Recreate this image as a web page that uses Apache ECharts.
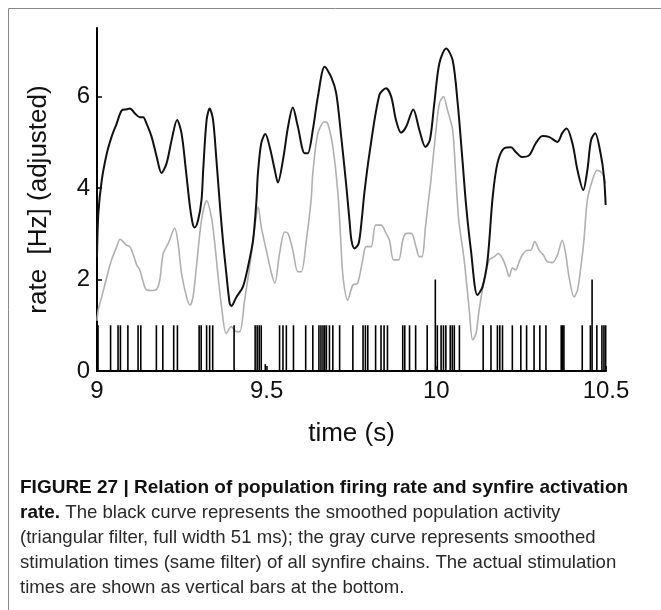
<!DOCTYPE html>
<html>
<head>
<meta charset="utf-8">
<script src="https://cdn.jsdelivr.net/npm/echarts@6/dist/echarts.min.js"></script>
<style>
html,body{margin:0;padding:0;background:#fff;}
#c{width:661px;height:610px;}
</style>
</head>
<body>
<div id="c"></div>
<script>
// ---- data ----
const blackT = [9.000,9.004,9.014,9.029,9.043,9.058,9.073,9.087,9.097,9.112,9.126,9.136,9.146,9.161,9.176,9.190,9.205,9.220,9.236,9.249,9.262,9.274,9.283,9.288,9.298,9.308,9.313,9.323,9.332,9.342,9.352,9.362,9.371,9.381,9.391,9.396,9.411,9.430,9.445,9.460,9.470,9.474,9.484,9.496,9.509,9.524,9.533,9.548,9.563,9.577,9.592,9.612,9.621,9.636,9.651,9.671,9.690,9.705,9.720,9.734,9.744,9.750,9.759,9.771,9.780,9.788,9.803,9.832,9.852,9.867,9.881,9.896,9.911,9.932,9.950,9.968,9.981,9.994,10.009,10.029,10.048,10.063,10.077,10.088,10.102,10.121,10.136,10.151,10.166,10.180,10.200,10.220,10.234,10.252,10.274,10.293,10.313,10.332,10.357,10.371,10.384,10.401,10.416,10.433,10.445,10.456,10.468,10.484,10.494,10.499];
const blackV = [2.5,3.45,4.17,4.76,5.12,5.41,5.70,5.72,5.74,5.63,5.55,5.55,5.41,5.12,4.68,4.33,4.54,5.05,5.49,5.20,4.39,3.59,3.19,3.14,3.30,3.74,4.4,5.49,5.74,5.49,4.61,3.65,2.86,2.14,1.48,1.42,1.62,1.84,2.28,2.86,3.74,4.3,4.98,5.18,4.90,4.39,4.12,4.61,5.34,5.76,5.34,4.76,4.76,5.27,6.00,6.65,6.43,6.07,5.10,4.1,3.3,2.85,2.68,2.79,3.3,3.9,4.76,6.03,6.18,6.00,5.49,5.21,5.34,5.72,5.27,4.90,5.05,5.85,6.73,7.05,6.80,5.85,4.61,3.6,2.64,1.66,1.84,2.43,3.8,4.54,4.87,4.89,4.79,4.68,4.72,4.98,5.14,5.12,5.01,5.20,5.30,4.98,4.39,3.96,4.39,5.05,5.20,4.76,4.25,3.63];
const grayT = [9.000,9.004,9.014,9.029,9.043,9.058,9.068,9.077,9.087,9.097,9.107,9.117,9.126,9.136,9.146,9.161,9.176,9.185,9.195,9.210,9.229,9.239,9.249,9.264,9.274,9.283,9.293,9.308,9.323,9.337,9.347,9.357,9.367,9.381,9.396,9.411,9.421,9.435,9.450,9.465,9.475,9.484,9.499,9.514,9.524,9.538,9.553,9.563,9.577,9.592,9.602,9.617,9.631,9.636,9.651,9.671,9.680,9.695,9.710,9.718,9.725,9.739,9.754,9.768,9.783,9.793,9.808,9.821,9.837,9.852,9.862,9.874,9.889,9.901,9.911,9.926,9.940,9.950,9.958,9.968,9.977,9.984,9.999,10.009,10.021,10.033,10.048,10.058,10.066,10.082,10.097,10.107,10.117,10.126,10.141,10.156,10.171,10.183,10.195,10.205,10.215,10.224,10.234,10.244,10.254,10.268,10.278,10.290,10.303,10.315,10.327,10.342,10.357,10.371,10.381,10.391,10.406,10.416,10.426,10.435,10.445,10.460,10.474,10.489,10.499];
const grayV = [1.1,1.35,1.62,2.06,2.43,2.72,2.88,2.83,2.75,2.72,2.54,2.32,2.21,1.95,1.77,1.76,1.79,1.99,2.57,2.79,3.12,2.79,2.14,1.62,1.44,1.62,2.28,3.30,3.72,3.37,2.79,2.06,1.41,0.82,0.97,0.86,0.86,1.55,2.28,3.15,3.59,3.15,2.64,2.14,1.92,2.57,3.04,3.01,2.64,2.17,2.17,2.86,3.74,4.32,5.20,5.45,5.41,4.90,3.88,2.9,2.06,1.55,1.88,1.92,2.43,2.72,2.72,3.19,3.19,3.01,2.86,2.43,2.43,2.86,3.01,3.01,2.72,2.50,2.50,3.15,3.74,4.17,5.27,5.85,6.00,5.70,5.27,4.17,3.30,2.43,1.33,0.68,0.82,1.33,1.99,2.43,2.50,2.57,2.46,2.28,2.06,2.25,2.21,2.39,2.54,2.64,2.64,2.83,2.64,2.54,2.39,2.37,2.54,2.86,2.57,2.06,1.62,1.77,2.28,2.86,3.74,4.17,4.39,4.32,4.1];
const spikeT = [9.003,9.040,9.062,9.069,9.091,9.121,9.129,9.175,9.194,9.226,9.237,9.301,9.307,9.323,9.332,9.341,9.404,9.466,9.472,9.478,9.484,9.496,9.538,9.548,9.558,9.579,9.615,9.636,9.654,9.660,9.666,9.671,9.676,9.685,9.695,9.715,9.754,9.784,9.791,9.798,9.821,9.837,9.846,9.856,9.901,9.907,9.921,9.939,9.973,9.997,10.003,10.014,10.021,10.028,10.041,10.047,10.053,10.068,10.138,10.161,10.180,10.187,10.195,10.224,10.249,10.266,10.288,10.305,10.323,10.368,10.372,10.376,10.430,10.454,10.459,10.473,10.488,10.494,10.499];
const spikeH = [1,1,1,1,1,1,1,1,1,1,1,1,1,1,1,1,1,1,1,1,1,0.15,1,1,1,1,1,1,1,1,1,1,1,1,1,1,1,1,1,1,1,1,1,1,1,1,1,1,1,2,1,1,1,1,1,1,1,1,1,1,1,1,1,1,1,1,1,1,1,1,1,1,1,1,2,1,1,1,1];
const xTicks = [9, 9.5, 10, 10.5];
const yTicks = [0, 2, 4, 6];
const caption = [
  [{t:'FIGURE 27 | Relation of population firing rate and synfire activation', b:true}],
  [{t:'rate.', b:true},{t:' The black curve represents the smoothed population activity', b:false}],
  [{t:'(triangular filter, full width 51 ms); the gray curve represents smoothed', b:false}],
  [{t:'stimulation times (same filter) of all synfire chains. The actual stimulation', b:false}],
  [{t:'times are shown as vertical bars at the bottom.', b:false}]
];

const zip = (a, b) => a.map((v, i) => [v, b[i]]);
const chart = echarts.init(document.getElementById('c'), null, {renderer: 'canvas'});
const FONT = 'Liberation Sans, Arial, sans-serif';

const captionGraphics = caption.map((parts, i) => ({
  type: 'text',
  left: 20,
  top: 478 + i * 25,
  style: {
    text: parts.map(p => (p.b ? '{b|' : '{r|') + p.t + '}').join(''),
    rich: {
      b: {fontFamily: FONT, fontWeight: 'bold', fontSize: 19, fill: '#111'},
      r: {fontFamily: FONT, fontSize: 18.6, fill: '#2a2a2a'}
    }
  }
}));

chart.setOption({
  animation: false,
  backgroundColor: '#fff',
  grid: {left: 97, top: 28, right: 55, bottom: 239, containLabel: false},
  xAxis: {
    type: 'value', min: 9, max: 10.5, interval: 0.5,
    name: 'time (s)', nameLocation: 'middle', nameGap: 50,
    nameTextStyle: {fontFamily: FONT, fontSize: 26, color: '#111'},
    axisLine: {lineStyle: {color: '#000', width: 2}},
    axisTick: {inside: true, length: 5, lineStyle: {color: '#000', width: 1.5}},
    axisLabel: {fontFamily: FONT, fontSize: 24, color: '#111', margin: 8,
      formatter: v => xTicks.indexOf(v) >= 0 ? String(v) : ''},
    splitLine: {show: false}
  },
  yAxis: {
    type: 'value', min: 0, max: 7.5, interval: 2,
    name: 'rate  [Hz] (adjusted)', nameLocation: 'middle', nameGap: 45, nameRotate: 90,
    nameTextStyle: {fontFamily: FONT, fontSize: 26, color: '#111'},
    axisLine: {show: true, lineStyle: {color: '#000', width: 2}},
    axisTick: {show: true, inside: true, length: 5, lineStyle: {color: '#000', width: 1.5}},
    axisLabel: {fontFamily: FONT, fontSize: 24, color: '#111', margin: 7, showMaxLabel: false,
      formatter: v => yTicks.indexOf(v) >= 0 ? String(v) : ''},
    splitLine: {show: false}
  },
  graphic: [
    {type: 'rect', shape: {x: 8.5, y: 8.5, width: 700, height: 700}, style: {fill: 'none', stroke: '#888', lineWidth: 1}, silent: true, z: -10}
  ].concat(captionGraphics),
  series: [
    {type: 'line', data: zip(grayT, grayV), showSymbol: false, smooth: 0.3,
      lineStyle: {color: '#b0b0b0', width: 1.6}, z: 2},
    {type: 'line', data: zip(blackT, blackV), showSymbol: false, smooth: 0.3,
      lineStyle: {color: '#111', width: 2}, z: 3},
    {type: 'custom', data: zip(spikeT, spikeH), z: 4,
      renderItem: (params, api) => {
        const p0 = api.coord([api.value(0), 0]);
        const p1 = api.coord([api.value(0), api.value(1)]);
        return {type: 'line', shape: {x1: p0[0], y1: p0[1], x2: p1[0], y2: p1[1]},
          style: {stroke: '#000', lineWidth: 1.6}};
      }
    }
  ]
});
</script>
</body>
</html>
